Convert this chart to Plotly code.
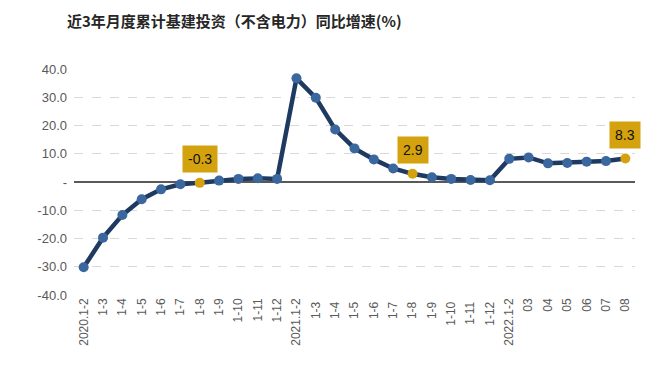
import plotly.graph_objects as go

categories = ["2020.1-2", "1-3", "1-4", "1-5", "1-6", "1-7", "1-8", "1-9", "1-10", "1-11", "1-12",
              "2021.1-2", "1-3 ", "1-4 ", "1-5 ", "1-6 ", "1-7 ", "1-8 ", "1-9 ", "1-10 ", "1-11 ", "1-12 ",
              "2022.1-2", "03", "04", "05", "06", "07", "08"]
values = [-30.2, -19.7, -11.7, -6.1, -2.6, -0.8, -0.3, 0.5, 1.1, 1.3, 1.1,
          36.7, 29.8, 18.6, 11.9, 8.0, 4.8, 2.9, 1.7, 1.1, 0.7, 0.6,
          8.2, 8.7, 6.6, 6.7, 7.2, 7.4, 8.3]
highlight_idx = [6, 17, 28]
ytick_vals = [-40, -30, -20, -10, 0, 10, 20, 30, 40]
ytick_text = ["-40.0", "-30.0", "-20.0", "-10.0", "-", "10.0", "20.0", "30.0", "40.0"]
title_text = "近3年月度累计基建投资（不含电力）同比增速(%)"

LINE = "#1F3A60"
MARK = "#3A679E"
GOLD = "#D4A20E"

marker_colors = [GOLD if i in highlight_idx else MARK for i in range(len(values))]
xpos = list(range(len(categories)))

fig = go.Figure()
fig.add_trace(go.Scatter(
    x=xpos, y=values, mode="lines+markers",
    line=dict(color=LINE, width=4.5),
    marker=dict(color=marker_colors, size=10, line=dict(width=0)),
    showlegend=False, hoverinfo="skip",
))

for i in highlight_idx:
    fig.add_annotation(
        x=xpos[i], y=values[i], text=f"{values[i]:.1f}",
        showarrow=False, yshift=24, bgcolor=GOLD, borderpad=5,
        font=dict(family="Liberation Sans, Arial", size=14, color="#111111"),
    )

fig.update_layout(
    width=658, height=382,
    margin=dict(l=74, r=23, t=69, b=87),
    paper_bgcolor="white", plot_bgcolor="white",
    title=dict(text="<b>" + title_text + "</b>", x=67/658, xanchor="left",
               y=1 - 22/382, yanchor="middle",
               font=dict(family="Noto Sans CJK SC", size=15, color="#262626")),
    xaxis=dict(range=[-0.5, len(categories) - 0.5], tickvals=xpos, ticktext=categories,
               showgrid=False, showline=False, ticks="", tickangle=-90,
               tickfont=dict(family="Liberation Sans, Arial", size=12, color="#595959"),
               zeroline=False, fixedrange=True),
    yaxis=dict(range=[-40, 40], tickvals=ytick_vals, ticktext=ytick_text,
               showgrid=True, gridcolor="#D9D9D9", griddash="dash", gridwidth=1,
               zeroline=True, zerolinecolor="#595959", zerolinewidth=2,
               showline=False, ticks="", ticklabelstandoff=6,
               tickfont=dict(family="Liberation Sans, Arial", size=13, color="#595959"),
               fixedrange=True),
)

fig.write_html("out.html", config={"displayModeBar": False},
               post_script="document.body.style.margin='0';document.body.style.overflow='hidden';")
